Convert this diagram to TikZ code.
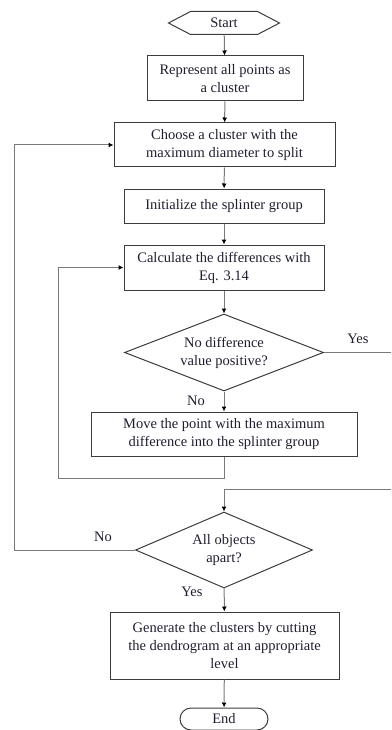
\documentclass[tikz,border=0pt]{standalone}
\usepackage{fontspec}
\setmainfont{Liberation Serif}
\usepackage{tikz}
\usetikzlibrary{shapes.geometric,arrows.meta}

\definecolor{boxgray}{HTML}{3C3C3C}
\definecolor{linegray}{HTML}{7A7A7A}
\definecolor{txtcol}{HTML}{1E1E30}

\tikzset{
  box/.style={draw=boxgray,line width=1pt,rectangle,inner sep=0pt,align=center,
    text=txtcol,font=\fontsize{14.5}{18}\selectfont},
  decide/.style={box,diamond},
  flow/.style={->,draw=linegray,line width=1pt},
  lbl/.style={text=txtcol,font=\fontsize{14.5}{18}\selectfont}
}

\begin{document}
\begin{tikzpicture}[>={Latex[length=5pt,width=5pt,black]},x=1pt,y=-1pt]
        \useasboundingbox (0,0) rectangle (391,730);
        \clip (0,0) rectangle (391,730);
        % terminals
        \node[box,draw=none,minimum width=110pt,minimum height=22pt] (start) at (224,23){Start};
        \draw[boxgray,line width=1pt] (start.west)--([xshift=22pt]start.north west)--([xshift=-22pt]start.north east)
            --(start.east)--([xshift=-22pt]start.south east)--([xshift=22pt]start.south west)--cycle;
        \node[box,rounded corners=11pt,minimum width=88pt,minimum height=22pt] (end) at (224,719){End};
        % steps
        \node[box,minimum width=156pt,minimum height=45pt] (represent) at (225,78.5){Represent all points as\\a cluster};
        \node[box,minimum width=221pt,minimum height=44pt] (choose) at (224.5,145){Choose a cluster with the\\maximum diameter to split};
        \node[box,minimum width=200pt,minimum height=34pt] (init) at (224,206){Initialize the splinter group};
        \node[box,minimum width=200pt,minimum height=45pt] (calc) at (224,267.5){Calculate the differences with\\Eq. 3.14};
        \node[decide,aspect=2.58,minimum width=199pt,minimum height=77pt] (nopos) at (224,352.5){No difference\\value positive?};
        \node[box,minimum width=266pt,minimum height=44pt] (move) at (224,434){Move the point with the maximum\\difference into the splinter group};
        \node[decide,aspect=2.33,minimum width=177pt,minimum height=76pt] (apart) at (224,550){All objects\\apart?};
        \node[box,minimum width=229pt,minimum height=67pt] (generate) at (224.5,645.5){Generate the clusters by cutting\\the dendrogram at an appropriate\\level};
        % straight arrows
        \draw[flow] (start)--(represent);
        \draw[flow] (represent)--(choose);
        \draw[flow] (choose)--(init);
        \draw[flow] (init)--(calc);
        \draw[flow] (calc)--(nopos);
        \draw[flow] (nopos)--(move);
        \draw[flow] (apart)--(generate);
        \draw[flow] (generate)--(end);
        % loops
        \coordinate (innerloop) at (58,478);
        \coordinate (outerloop) at (14,550);
        \coordinate (yesright) at (396,489);
        \draw[flow] (move.south)|-(innerloop)|-(calc.west);
        \draw[flow] (apart.west)--(outerloop)|-(choose.west);
        \draw[flow] (nopos.east)-|(yesright)-|(apart.north);
        % labels
        \node[lbl] at (358,339){Yes};
        \node[lbl] at (196,401){No};
        \node[lbl] at (103,537){No};
        \node[lbl] at (192,592){Yes};
\end{tikzpicture}
\end{document}
